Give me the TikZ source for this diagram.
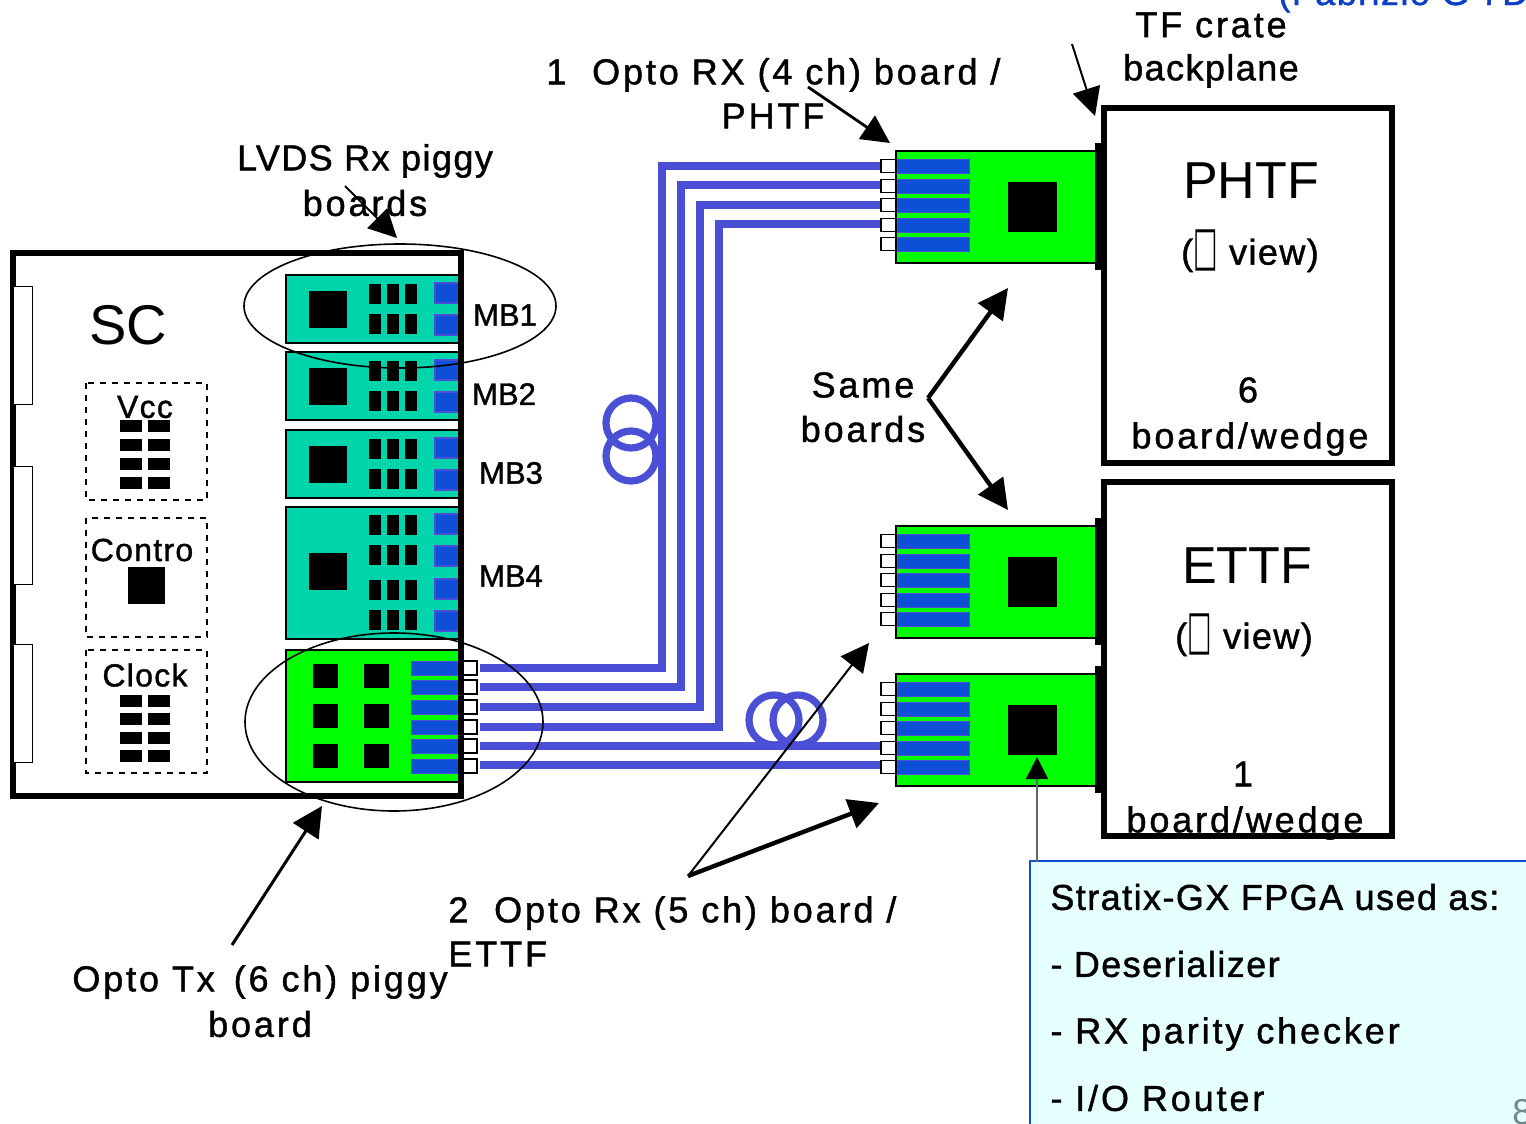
\documentclass[tikz,border=0pt]{standalone}
\usepackage{fontspec}
\setmainfont[LetterSpace=8,FakeBold=1.2]{Liberation Sans}
\newfontfamily\tightfont[LetterSpace=4,FakeBold=1.2]{Liberation Sans}
\newfontfamily\mbfont[FakeBold=1.2]{Liberation Sans}
\newfontfamily\thinfont{Liberation Sans}
\newfontfamily\symbfont{DejaVu Sans}
\usetikzlibrary{arrows.meta,calc,positioning}
\definecolor{mbteal}{HTML}{00D4AA}
\definecolor{rxgreen}{HTML}{00FF00}
\definecolor{barblue}{HTML}{0D4FD6}
\definecolor{fiber}{HTML}{4A4FD6}
\definecolor{noteback}{HTML}{E6FFFF}
\definecolor{pagenum}{HTML}{6F8A8A}
\definecolor{titleblue}{HTML}{0D3FC6}
\newcommand{\tofu}{{\symbfont\scalebox{0.72}[1.5]{□}}}
\tikzset{
  lab/.style={font=\fontsize{18}{20}\selectfont,inner sep=0pt},
  tightlab/.style={font=\fontsize{18}{20}\tightfont,inner sep=0pt},
  boxlab/.style={font=\fontsize{16}{18}\tightfont,inner sep=0pt},
  biglab/.style={font=\fontsize{26}{30}\thinfont,inner sep=0pt},
  mblab/.style={font=\fontsize{15.5}{18}\mbfont,inner sep=0pt},
  wall/.style={draw=black,line width=3pt},
  thinarrow/.style={-{Triangle[length=14pt,width=14pt]},line width=1pt},
  fatarrow/.style={-{Triangle[length=15pt,width=15pt]},line width=2.2pt},
  chip/.style={fill=black},
  optlink/.style={draw=black,fill=white,line width=0.8pt},
  fiberline/.style={draw=fiber,line width=4pt},
  fiberloop/.style={draw=fiber,line width=3.6pt},
  dashbox/.style={draw=black,dashed,line width=0.6pt},
}
\begin{document}
\begin{tikzpicture}[x=0.5pt,y=-0.5pt]
  \path[use as bounding box,clip] (0,0) rectangle (1526,1124);

  \node[font=\fontsize{18}{20}\tightfont,text=titleblue,anchor=base west,inner sep=0pt] (title) at (1278,5) {(Fabrizio G 7Dc};

  % fibers go under everything
  \coordinate (txfa) at (480,668);
  \coordinate (txfb) at (480,687);
  \coordinate (txfc) at (480,707);
  \coordinate (txfd) at (480,727);
  \coordinate (txfe) at (480,746);
  \coordinate (txff) at (480,765);
  \coordinate (pha) at (881,166);
  \coordinate (phb) at (881,185);
  \coordinate (phc) at (881,205);
  \coordinate (phd) at (881,224);
  \coordinate (eta) at (881,746);
  \coordinate (etb) at (881,765);
  \draw[fiberline] (txfa) -| (662,166) -- (pha);
  \draw[fiberline] (txfb) -| (681,185) -- (phb);
  \draw[fiberline] (txfc) -| (700,205) -- (phc);
  \draw[fiberline] (txfd) -| (719,224) -- (phd);
  \draw[fiberline] (txfe) -- (eta);
  \draw[fiberline] (txff) -- (etb);
  \draw[fiberloop] (631,423) circle (25);
  \draw[fiberloop] (631,456) circle (25);
  \draw[fiberloop] (774,720) circle (25);
  \draw[fiberloop] (798,720) circle (25);

  % SC crate
  \draw[wall,fill=white] (13,253) rectangle (461,796);
  \foreach \y in {286,466,644}{\draw[fill=white,line width=0.5pt] (13,\y) rectangle (32,\y+118);}
  \node[biglab,font=\fontsize{28}{30}\thinfont] (sc) at (128,325) {SC};

  \draw[dashbox] (86,383) rectangle (207,500);
  \draw[dashbox] (86,518) rectangle (207,637);
  \draw[dashbox] (86,650) rectangle (207,773);
  \node[boxlab] (vcc) at (145,407) {Vcc};
  \node[boxlab] (contro) at (142,550) {Contro};
  \node[boxlab] (clock) at (145,675) {Clock};
  \foreach \y in {420,439,458,477}{
    \fill[chip] (120,\y) rectangle (142,\y+12);
    \fill[chip] (148,\y) rectangle (170,\y+12);
  }
  \foreach \y in {695,713,732,750}{
    \fill[chip] (120,\y) rectangle (142,\y+12);
    \fill[chip] (148,\y) rectangle (170,\y+12);
  }
  \fill[chip] (128,567) rectangle (165,604);

  % LVDS mezzanines
  \foreach \top/\bot/\cy in {275/343/291,352/420/368,430/498/446,507/639/553}{
    \draw[fill=mbteal,line width=0.8pt] (286,\top) rectangle (461,\bot);
    \fill[chip] (309,\cy) rectangle (347,\cy+37);
  }
  \foreach \y in {284,314,361,391,439,469,515,545,580,610}{
    \foreach \x in {369,387,405}{\fill[chip] (\x,\y) rectangle (\x+12,\y+20);}
  }
  \foreach \y in {283,315,360,392,438,470,514,546,579,611}{
    \draw[fill=barblue,draw=fiber,line width=0.7pt] (435,\y) rectangle (459,\y+20);
  }
  \node[mblab] (mba) at (505,315) {MB1};
  \node[mblab] (mbb) at (504,394) {MB2};
  \node[mblab] (mbc) at (511,473) {MB3};
  \node[mblab] (mbd) at (511,576) {MB4};

  % opto tx piggy
  \draw[fill=rxgreen,line width=0.8pt] (286,650) rectangle (461,782);
  \foreach \y in {664,704,744}{
    \foreach \x in {313,364}{\fill[chip] (\x,\y) rectangle (\x+25,\y+24);}
  }
  \foreach \y in {668,687,707,727,746,766}{
    \draw[fill=barblue,draw=fiber,line width=0.5pt] (411,\y-7) rectangle (461,\y+7);
    \draw[optlink] (463,\y-7) rectangle (477,\y+7);
  }
  \draw[wall] (461,253) -- (461,796);

  % TF crate boxes
  \draw[wall] (1104,108) rectangle (1392,463);
  \draw[wall] (1104,482) rectangle (1392,836);
  \node[biglab] (phtfname) at (1251,181) {PHTF};
  \node[tightlab] (phtfview) at (1250,251) {(\tofu\ view)};
  \node[lab] (phtfsix) at (1248,390) {6};
  \node[lab] (phtfwedge) at (1250,439) {board/wedge};
  \node[biglab] (ettfname) at (1247,566) {ETTF};
  \node[tightlab] (ettfview) at (1244,635) {(\tofu\ view)};
  \node[lab] (ettfone) at (1243,774) {1};
  \node[lab] (ettfwedge) at (1245,823) {board/wedge};

  % rx boards with backplane bar
  \foreach \top in {151,526,674}{
    \draw[fill=rxgreen,line width=0.8pt] (896,\top) rectangle (1097,\top+112);
    \fill[chip] (1008,\top+31) rectangle (1057,\top+81);
    \fill[chip] (1095,\top-8) rectangle (1106,\top+119);
    \foreach \d in {15,35,54,74,93}{
      \draw[fill=barblue,draw=fiber,line width=0.5pt] (897,\top+\d-7) rectangle (969,\top+\d+7);
      \draw[optlink] (881,\top+\d-6.5) rectangle (896,\top+\d+6.5);
    }
  }

  % round the groups
  \draw[line width=0.8pt] (400,306) ellipse (156 and 62);
  \draw[line width=0.8pt] (394,722) ellipse (149 and 89);

  % labels
  \node[lab,anchor=west] (rxone) at (546,75) {1\ \ Opto RX (4 ch) board /};
  \node[lab] (rxonetag) at (773,116) {PHTF};
  \node[tightlab] (lvdsa) at (365,161) {LVDS Rx piggy};
  \node[lab] (lvdsb) at (365,203) {boards};
  \node[lab] (tfa) at (1211,25) {TF crate};
  \node[tightlab] (tfb) at (1211,71) {backplane};
  \node[lab] (samea) at (863,385) {Same};
  \node[lab] (sameb) at (863,429) {boards};
  \node[lab,anchor=west] (rxtwo) at (448,913) {2\ \ Opto Rx (5 ch) board /};
  \node[lab,anchor=west] (rxtwotag) at (448,954) {ETTF};
  \node[lab,anchor=west] (txlaba) at (72,982) {Opto Tx\,\ (6 ch) piggy};
  \node[lab] (txlabb) at (260,1024) {board};

  % arrows
  \coordinate (lvdsfrom) at (345,186);
  \coordinate (lvdsto) at (397,238);
  \coordinate (rxonefrom) at (808,87);
  \coordinate (rxoneto) at (890,143);
  \coordinate (tffrom) at (1072,44);
  \coordinate (tfto) at (1095,116);
  \coordinate (samefrom) at (928,398);
  \coordinate (sameup) at (1008,288);
  \coordinate (samedown) at (1008,510);
  \coordinate (rxtwofrom) at (688,876);
  \coordinate (rxtwoup) at (869,643);
  \coordinate (rxtwodown) at (879,803);
  \coordinate (txfrom) at (232,945);
  \coordinate (txto) at (322,806);
  \coordinate (fpgato) at (1037,757);
  \draw[thinarrow] (lvdsfrom) -- (lvdsto);
  \draw[thinarrow,line width=1.4pt] (rxonefrom) -- (rxoneto);
  \draw[thinarrow] (tffrom) -- (tfto);
  \draw[fatarrow] (samefrom) -- (sameup);
  \draw[fatarrow] (samefrom) -- (samedown);
  \draw[thinarrow] (rxtwofrom) -- (rxtwoup);
  \draw[fatarrow] (rxtwofrom) -- (rxtwodown);
  \draw[fatarrow,line width=1.5pt] (txfrom) -- (txto);

  % stratix note
  \node[draw=barblue,fill=noteback,line width=1pt,minimum width=500,minimum height=270,anchor=north west] (note) at (1029,860) {};
  \coordinate (fpgafrom) at (1037,862);
  \draw[-{Triangle[length=11pt,width=11pt,black]},black!60,line width=0.8pt] (fpgafrom) -- (fpgato);
  \node[tightlab,anchor=west] (notea) at (1050,897) {Stratix-GX FPGA used as:};
  \node[tightlab,anchor=west] (noteb) at (1050,964) {- Deserializer};
  \node[lab,anchor=west] (notec) at (1050,1034) {- RX parity checker};
  \node[lab,anchor=west] (noted) at (1050,1098) {- I/O Router};
  \node[font=\fontsize{18}{20}\thinfont,text=pagenum,anchor=west,inner sep=0pt] (pageno) at (1512,1112) {8};
\end{tikzpicture}
\end{document}
